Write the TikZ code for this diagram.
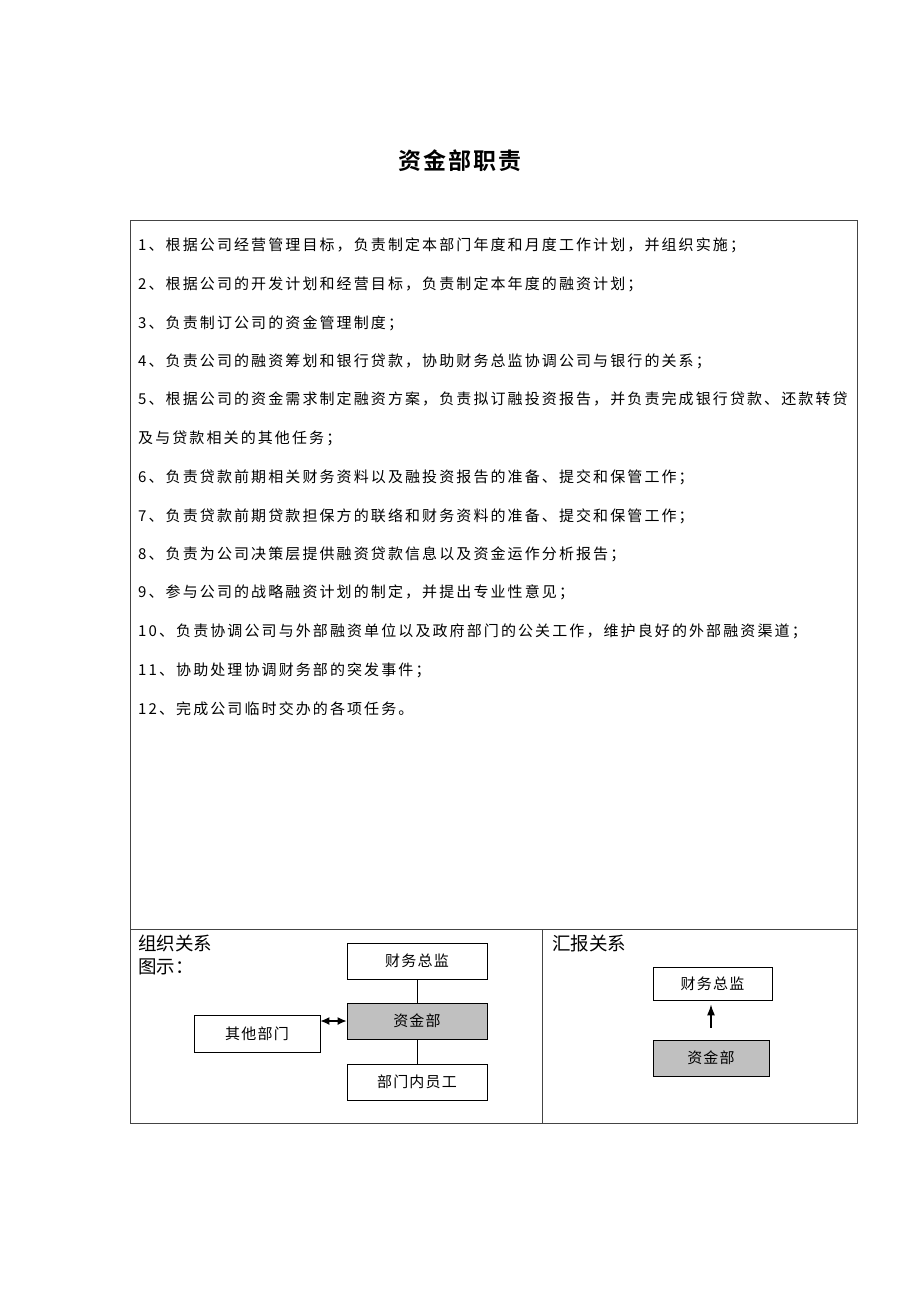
\documentclass[tikz,border=0pt]{standalone}
\usepackage{fontspec}
\usetikzlibrary{arrows.meta}
\newfontfamily\cjk{Noto Sans CJK SC}
\newfontfamily\cjkbody[LetterSpace=14]{Noto Sans CJK SC}
\newfontfamily\cjkbox[LetterSpace=8]{Noto Sans CJK SC}
\newfontfamily\cjktitle[LetterSpace=8]{Noto Sans CJK SC Bold}
\definecolor{frame}{HTML}{444444}
\definecolor{boxgray}{HTML}{C0C0C0}
\tikzset{
  item/.style={anchor=west, inner sep=0pt, font=\cjkbody\fontsize{15}{17}\selectfont},
  org/.style={draw=black, line width=0.8pt, minimum width=140pt, minimum height=36pt, inner sep=0pt, font=\cjkbox\fontsize{15}{17}\selectfont},
  orggray/.style={org, fill=boxgray},
  head/.style={anchor=west, inner sep=0pt, font=\cjk\fontsize{18.5}{20}\selectfont},
  grid/.style={draw=frame, line width=1pt}
}
\begin{document}
\begin{tikzpicture}[x=1pt, y=-1pt]
\useasboundingbox (0,0) rectangle (920,1302);
\fill[white] (0,0) rectangle (920,1302);
% title
\node[inner sep=0pt, font=\cjktitle\fontsize{23}{25}\selectfont] (title) at (460,161) {资金部职责};
% table frame
\draw[grid] (130,220) rectangle (857,1123);
\draw[grid] (130,929) -- (857,929);
\draw[grid] (542,929) -- (542,1123);
% items
\node[item] (i1) at (138,245) {1、根据公司经营管理目标，负责制定本部门年度和月度工作计划，并组织实施；};
\node[item] (i2) at (138,284) {2、根据公司的开发计划和经营目标，负责制定本年度的融资计划；};
\node[item] (i3) at (138,323) {3、负责制订公司的资金管理制度；};
\node[item] (i4) at (138,361) {4、负责公司的融资筹划和银行贷款，协助财务总监协调公司与银行的关系；};
\node[item] (i5) at (138,399) {5、根据公司的资金需求制定融资方案，负责拟订融投资报告，并负责完成银行贷款、还款转贷};
\node[item] (i5b) at (138,438) {及与贷款相关的其他任务；};
\node[item] (i6) at (138,477) {6、负责贷款前期相关财务资料以及融投资报告的准备、提交和保管工作；};
\node[item] (i7) at (138,516) {7、负责贷款前期贷款担保方的联络和财务资料的准备、提交和保管工作；};
\node[item] (i8) at (138,554) {8、负责为公司决策层提供融资贷款信息以及资金运作分析报告；};
\node[item] (i9) at (138,592) {9、参与公司的战略融资计划的制定，并提出专业性意见；};
\node[item] (i10) at (138,631) {10、负责协调公司与外部融资单位以及政府部门的公关工作，维护良好的外部融资渠道；};
\node[item] (i11) at (138,670) {11、协助处理协调财务部的突发事件；};
\node[item] (i12) at (138,709) {12、完成公司临时交办的各项任务。};
% left panel
\node[head] (h1) at (138,943) {组织关系};
\node[head] (h1b) at (138,967) {图示：};
\node[org] (cw) at (417,961) {财务总监};
\node[orggray] (zj) at (417,1021) {资金部};
\node[org, minimum width=126pt, minimum height=37pt] (qt) at (257,1033.5) {其他部门};
\node[org] (yg) at (417,1082) {部门内员工};
\draw[line width=0.8pt] (cw.south) -- (zj.north);
\draw[line width=0.8pt] (zj.south) -- (yg.north);
\draw[line width=1.3pt, {Latex[length=9pt,width=8pt]}-{Latex[length=9pt,width=8pt]}] (qt.east |- zj.west) -- (zj.west);
% right panel
\node[head] (h2) at (552,943) {汇报关系};
\node[org, minimum width=119pt, minimum height=33pt] (rcw) at (712.5,983.5) {财务总监};
\node[orggray, minimum width=116pt, minimum height=36pt] (rzj) at (711,1058) {资金部};
\draw[line width=1.3pt, -{Latex[length=11pt,width=8pt]}, shorten <=12pt, shorten >=4pt] (rzj.north) -- (rzj.north |- rcw.south);
\end{tikzpicture}
\end{document}
